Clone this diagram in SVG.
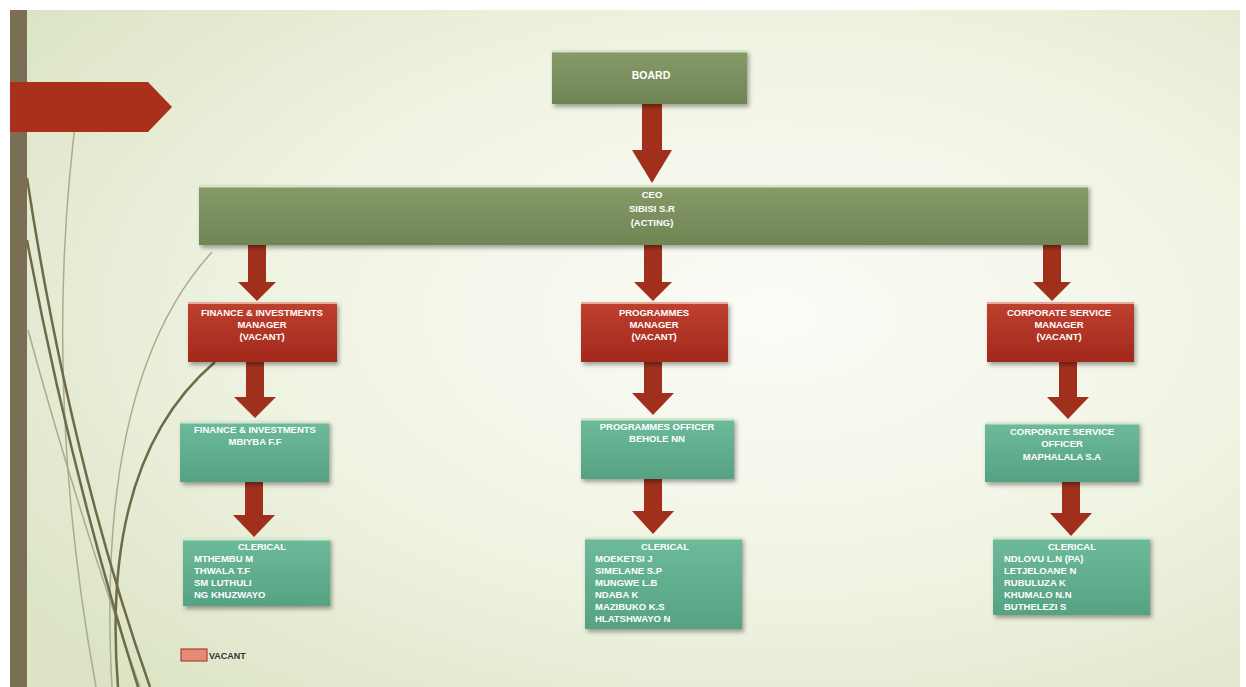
<svg xmlns="http://www.w3.org/2000/svg" width="1246" height="687" viewBox="0 0 1246 687">
<defs>
<radialGradient id="bg" cx="0.62" cy="0.45" r="0.75">
<stop offset="0" stop-color="#fbfcf7"/>
<stop offset="0.55" stop-color="#eff3e2"/>
<stop offset="1" stop-color="#dce4c5"/>
</radialGradient>
<linearGradient id="gGreen" x1="0" y1="0" x2="0" y2="1">
<stop offset="0" stop-color="#879b69"/>
<stop offset="1" stop-color="#6f8553"/>
</linearGradient>
<linearGradient id="gRed" x1="0" y1="0" x2="0" y2="1">
<stop offset="0" stop-color="#c0402f"/>
<stop offset="1" stop-color="#a2291c"/>
</linearGradient>
<linearGradient id="gTeal" x1="0" y1="0" x2="0" y2="1">
<stop offset="0" stop-color="#6dbb9b"/>
<stop offset="1" stop-color="#56a283"/>
</linearGradient>
<filter id="sh" x="-10%" y="-20%" width="120%" height="150%">
<feDropShadow dx="2" dy="3" stdDeviation="2" flood-color="#000" flood-opacity="0.35"/>
</filter>
</defs>
<style>
.t{font-family:"Liberation Sans",Arial,sans-serif;font-weight:bold;fill:#ffffff;font-size:9.5px}
.tc{text-anchor:middle}
.hl{fill:#e8f0d8;opacity:0.85}
.arr{fill:#a0301c}
.curveD{fill:none;stroke:#6f6a48;stroke-width:2.5}
.curveL{fill:none;stroke:#a9ad8c;stroke-width:1.5}
</style>

<!-- background -->
<rect x="0" y="0" width="1246" height="687" fill="#ffffff"/>
<rect x="10" y="10" width="1230" height="677" fill="url(#bg)"/>

<!-- decorative curves -->
<g id="decor">
<path class="curveL" d="M78,103 Q40,380 96,687"/>
<path class="curveL" d="M212,252 Q95,380 112,687"/>
<path class="curveL" d="M28,330 Q80,520 140,687"/>
<path class="curveD" d="M27,178 Q70,460 150,687"/>
<path class="curveD" d="M27,240 Q70,470 138,687" stroke-width="1.8"/>
<path class="curveD" d="M215,362 Q100,460 118,687" stroke-width="1.6"/>
<rect x="10" y="10" width="17" height="677" fill="#7a6f55"/>
<polygon points="10,82 148,82 172,107 148,132 10,132" fill="#a9301a"/>
</g>

<!-- connectors -->
<g id="connectors">
<polygon class="arr" points="642,104 662,104 662,150 672,150 652,183 632,150 642,150"/>
<polygon class="arr" points="248,245 266,245 266,282 276,282 257,301 238,282 248,282"/>
<polygon class="arr" points="644,245 662,245 662,282 672,282 653,301 634,282 644,282"/>
<polygon class="arr" points="1043,245 1061,245 1061,282 1071,282 1052,301 1033,282 1043,282"/>
<polygon class="arr" points="246,362 264,362 264,397 276,397 255,418 234,397 246,397"/>
<polygon class="arr" points="644,362 662,362 662,393 674,393 653,415 632,393 644,393"/>
<polygon class="arr" points="1059,362 1077,362 1077,397 1089,397 1068,419 1047,397 1059,397"/>
<polygon class="arr" points="245,482 263,482 263,515 275,515 254,537 233,515 245,515"/>
<polygon class="arr" points="644,479 662,479 662,511 674,511 653,534 632,511 644,511"/>
<polygon class="arr" points="1062,482 1080,482 1080,513 1092,513 1071,536 1050,513 1062,513"/>
</g>

<!-- nodes -->
<g id="board">
<rect x="552" y="50" width="195" height="54" fill="url(#gGreen)" filter="url(#sh)"/>
<rect class="hl" x="552" y="50" width="195" height="2.5"/>
<text class="t tc" x="651" y="79" style="font-size:10.5px">BOARD</text>
</g>

<g id="ceo">
<rect x="199" y="185" width="889" height="60" fill="url(#gGreen)" filter="url(#sh)"/>
<rect class="hl" x="199" y="185" width="889" height="2.5"/>
<text class="t tc" x="652" y="198" font-weight="normal">CEO</text>
<text class="t tc" x="652" y="212">SIBISI S.R</text>
<text class="t tc" x="652" y="226" font-weight="normal">(ACTING)</text>
</g>

<g id="fin-mgr">
<rect x="188" y="302" width="149" height="60" fill="url(#gRed)" filter="url(#sh)"/>
<rect x="188" y="302" width="149" height="2" fill="#f0c8b8" opacity="0.8"/>
<text class="t tc" x="262" y="316">FINANCE &amp; INVESTMENTS</text>
<text class="t tc" x="262" y="328">MANAGER</text>
<text class="t tc" x="262" y="340">(VACANT)</text>
</g>

<g id="prog-mgr">
<rect x="581" y="302" width="147" height="60" fill="url(#gRed)" filter="url(#sh)"/>
<rect x="581" y="302" width="147" height="2" fill="#f0c8b8" opacity="0.8"/>
<text class="t tc" x="654" y="316">PROGRAMMES</text>
<text class="t tc" x="654" y="328">MANAGER</text>
<text class="t tc" x="654" y="340">(VACANT)</text>
</g>

<g id="corp-mgr">
<rect x="987" y="302" width="147" height="60" fill="url(#gRed)" filter="url(#sh)"/>
<rect x="987" y="302" width="147" height="2" fill="#f0c8b8" opacity="0.8"/>
<text class="t tc" x="1059" y="316">CORPORATE SERVICE</text>
<text class="t tc" x="1059" y="328">MANAGER</text>
<text class="t tc" x="1059" y="340">(VACANT)</text>
</g>

<g id="fin-off">
<rect x="180" y="421" width="149" height="61" fill="url(#gTeal)" filter="url(#sh)"/>
<rect class="hl" x="180" y="421" width="149" height="2.5"/>
<text class="t tc" x="255" y="433">FINANCE &amp; INVESTMENTS</text>
<text class="t tc" x="255" y="445">MBIYBA F.F</text>
</g>

<g id="prog-off">
<rect x="581" y="418" width="153" height="61" fill="url(#gTeal)" filter="url(#sh)"/>
<rect class="hl" x="581" y="418" width="153" height="2.5"/>
<text class="t tc" x="657" y="430">PROGRAMMES OFFICER</text>
<text class="t tc" x="657" y="442">BEHOLE NN</text>
</g>

<g id="corp-off">
<rect x="985" y="422" width="154" height="60" fill="url(#gTeal)" filter="url(#sh)"/>
<rect class="hl" x="985" y="422" width="154" height="2.5"/>
<text class="t tc" x="1062" y="435">CORPORATE SERVICE</text>
<text class="t tc" x="1062" y="447">OFFICER</text>
<text class="t tc" x="1062" y="460">MAPHALALA S.A</text>
</g>

<g id="fin-clerical">
<rect x="183" y="538" width="147" height="68" fill="url(#gTeal)" filter="url(#sh)"/>
<rect class="hl" x="183" y="538" width="147" height="2.5"/>
<text class="t tc" x="262" y="550" font-weight="normal">CLERICAL</text>
<text class="t" x="194" y="562">MTHEMBU M</text>
<text class="t" x="194" y="574">THWALA T.F</text>
<text class="t" x="194" y="586">SM LUTHULI</text>
<text class="t" x="194" y="598">NG KHUZWAYO</text>
</g>

<g id="prog-clerical">
<rect x="585" y="537" width="157" height="92" fill="url(#gTeal)" filter="url(#sh)"/>
<rect class="hl" x="585" y="537" width="157" height="2.5"/>
<text class="t tc" x="665" y="550" font-weight="normal">CLERICAL</text>
<text class="t" x="595" y="562">MOEKETSI J</text>
<text class="t" x="595" y="574">SIMELANE S.P</text>
<text class="t" x="595" y="586">MUNGWE L.B</text>
<text class="t" x="595" y="598">NDABA K</text>
<text class="t" x="595" y="610">MAZIBUKO K.S</text>
<text class="t" x="595" y="622">HLATSHWAYO N</text>
</g>

<g id="corp-clerical">
<rect x="993" y="537" width="157" height="78" fill="url(#gTeal)" filter="url(#sh)"/>
<rect class="hl" x="993" y="537" width="157" height="2.5"/>
<text class="t tc" x="1072" y="550" font-weight="normal">CLERICAL</text>
<text class="t" x="1004" y="562">NDLOVU L.N (PA)</text>
<text class="t" x="1004" y="574">LETJELOANE N</text>
<text class="t" x="1004" y="586">RUBULUZA K</text>
<text class="t" x="1004" y="598">KHUMALO N.N</text>
<text class="t" x="1004" y="610">BUTHELEZI S</text>
</g>

<g id="legend">
<rect x="181" y="649" width="26" height="12" fill="#e58a78" stroke="#b8402c" stroke-width="1.2"/>
<text x="209" y="659" font-family="Liberation Sans, Arial, sans-serif" font-weight="bold" font-size="9" fill="#333">VACANT</text>
</g>
</svg>
